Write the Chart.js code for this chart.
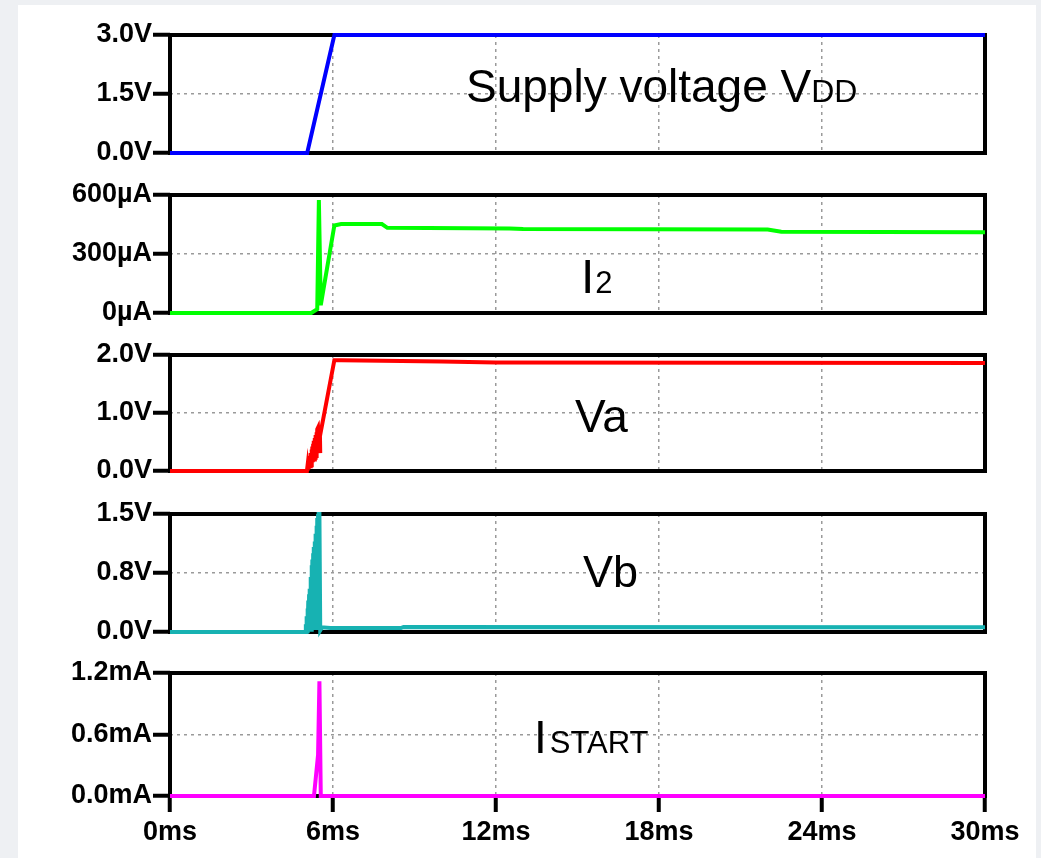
<!DOCTYPE html>
<html>
<head>
<meta charset="utf-8">
<script src="https://cdn.jsdelivr.net/npm/chart.js@4/dist/chart.umd.min.js"></script>
<style>
  html, body { margin: 0; padding: 0; background: #eef0f3; }
  body { width: 1041px; height: 858px; position: relative; overflow: hidden; }
  #sheet { position: absolute; left: 18px; top: 5px; width: 1018px; height: 853px; background: #ffffff; }
  canvas { position: absolute; left: 0; }
</style>
</head>
<body>
<div id="sheet"></div>
<canvas id="p1"></canvas>
<canvas id="p2"></canvas>
<canvas id="p3"></canvas>
<canvas id="p4"></canvas>
<canvas id="p5"></canvas>
<script>
// Shared time axis (ms)
const timeTicks = [0, 6, 12, 18, 24, 30];
const timeTickLabels = ['0ms', '6ms', '12ms', '18ms', '24ms', '30ms'];

// Supply voltage VDD (V)
const vddTime  = [0, 5.05, 6.05, 30];
const vddVolts = [0, 0, 3.0, 3.0];
const vddTicks = [0, 1.5, 3.0];
const vddTickLabels = ['0.0V', '1.5V', '3.0V'];

// Branch current I2 (µA)
const i2Time = [0, 5.2, 5.42, 5.48, 5.55, 6.05, 6.3, 7.8, 8.0, 12.5, 13, 22, 22.5, 30];
const i2Amps = [0, 0, 20, 575, 40, 445, 452, 452, 433, 430, 427, 424, 413, 411];
const i2Ticks = [0, 300, 600];
const i2TickLabels = ['0µA', '300µA', '600µA'];

// Node voltage Va (V) — ringing during the supply ramp, then settles
const vaTime  = [0, 5.04, 5.06, 5.075, 5.09, 5.105, 5.12, 5.135, 5.15, 5.165, 5.18, 5.195, 5.21, 5.225, 5.24, 5.255, 5.27, 5.285, 5.3, 5.315, 5.33, 5.345, 5.36, 5.375, 5.39, 5.405, 5.42, 5.45, 5.5, 5.53, 5.52, 6.05, 6.3, 10, 12, 30];
const vaVolts = [0, 0, 0.08, 0.01, 0.14, 0.03, 0.2, 0.05, 0.26, 0.08, 0.31, 0.1, 0.37, 0.12, 0.42, 0.15, 0.47, 0.18, 0.52, 0.2, 0.57, 0.23, 0.62, 0.26, 0.67, 0.3, 0.72, 0.75, 0.4, 0.31, 0.6, 1.91, 1.91, 1.89, 1.87, 1.86];
const vaTicks = [0, 1.0, 2.0];
const vaTickLabels = ['0.0V', '1.0V', '2.0V'];

// Node voltage Vb (V) — dense oscillation burst at start-up
const vbTime  = [0, 4.97, 5.0, 5.015, 5.03, 5.045, 5.06, 5.075, 5.09, 5.105, 5.12, 5.135, 5.15, 5.165, 5.18, 5.195, 5.21, 5.225, 5.24, 5.255, 5.27, 5.285, 5.3, 5.315, 5.33, 5.345, 5.36, 5.375, 5.39, 5.405, 5.42, 5.435, 5.45, 5.465, 5.48, 5.5, 5.53, 5.6, 5.9, 8.5, 8.6, 30];
const vbVolts = [0, 0, 0.1, 0.0, 0.2, 0.01, 0.3, 0.02, 0.4, 0.02, 0.48, 0.03, 0.55, 0.03, 0.7, 0.03, 0.85, 0.04, 0.92, 0.04, 1.0, 0.04, 1.08, 0.05, 1.15, 0.05, 1.25, 0.05, 1.35, 0.05, 1.45, 0.05, 1.5, 0.05, 1.5, 1.5, 0.02, 0.06, 0.05, 0.05, 0.065, 0.06];
const vbTicks = [0, 0.75, 1.5];
const vbTickLabels = ['0.0V', '0.8V', '1.5V'];

// Start-up current ISTART (mA)
const isTime = [0, 5.3, 5.45, 5.5, 5.55, 30];
const isAmps = [0, 0, 0.4, 1.12, 0, 0];
const isTicks = [0, 0.6, 1.2];
const isTickLabels = ['0.0mA', '0.6mA', '1.2mA'];

const FONT = '"Liberation Sans", Arial, sans-serif';

const panels = [
  { id: 'p1', top: 35,  bottom: 153, min: 0, max: 3.0, t: vddTime, v: vddVolts, ticks: vddTicks, tickLabels: vddTickLabels,
    color: '#0000ff', title: 'Supply voltage V', sub: 'DD', tx: 466, ty: 102, size: 46, subSize: 32, subGap: 0 },
  { id: 'p2', top: 195, bottom: 313, min: 0, max: 600, t: i2Time, v: i2Amps, ticks: i2Ticks, tickLabels: i2TickLabels,
    color: '#00ff00', title: 'I', sub: '2', tx: 581, ty: 293, size: 48, subSize: 31, subGap: 1 },
  { id: 'p3', top: 355, bottom: 471, min: 0, max: 2.0, t: vaTime, v: vaVolts, ticks: vaTicks, tickLabels: vaTickLabels,
    color: '#ff0000', title: 'Va', sub: '', tx: 575, ty: 432, size: 46, subSize: 30, subGap: 0 },
  { id: 'p4', top: 514, bottom: 632, min: 0, max: 1.5, t: vbTime, v: vbVolts, ticks: vbTicks, tickLabels: vbTickLabels,
    color: '#17b2b2', title: 'Vb', sub: '', tx: 583, ty: 587, size: 45, subSize: 30, subGap: 0 },
  { id: 'p5', top: 673, bottom: 796, min: 0, max: 1.2, t: isTime, v: isAmps, ticks: isTicks, tickLabels: isTickLabels,
    color: '#ff00ff', title: 'I', sub: 'START', tx: 534, ty: 753, size: 46, subSize: 31, subGap: 3 }
];

// Thick black box around each plot area, under the trace
const framePlugin = {
  id: 'frame',
  beforeDatasetsDraw(chart) {
    const a = chart.chartArea, ctx = chart.ctx;
    ctx.save();
    ctx.strokeStyle = '#000';
    ctx.lineWidth = 4;
    ctx.strokeRect(a.left, a.top, a.right - a.left, a.bottom - a.top);
    ctx.restore();
  }
};

const gridGrey = '#9a9a9a';
const clear = 'rgba(0,0,0,0)';

panels.forEach((p, i) => {
  const isLast = i === panels.length - 1;
  const canvasTop = p.top - 20;
  const canvasBottom = isLast ? 858 : p.bottom + 20;
  const canvas = document.getElementById(p.id);
  canvas.style.top = canvasTop + 'px';
  canvas.width = 1041;
  canvas.height = canvasBottom - canvasTop;

  // Trace name written inside the plot, with a smaller trailing part
  const namePlugin = {
    id: 'name' + i,
    afterDatasetsDraw(chart) {
      const ctx = chart.ctx;
      ctx.save();
      ctx.fillStyle = '#000';
      ctx.textBaseline = 'alphabetic';
      ctx.textAlign = 'left';
      ctx.font = p.size + 'px ' + FONT;
      const y = p.ty - canvasTop;
      ctx.fillText(p.title, p.tx, y);
      if (p.sub) {
        const w = ctx.measureText(p.title).width;
        ctx.font = p.subSize + 'px ' + FONT;
        ctx.fillText(p.sub, p.tx + w + p.subGap, y);
      }
      ctx.restore();
    }
  };

  new Chart(canvas, {
    type: 'line',
    data: {
      datasets: [{
        data: p.t.map((x, k) => ({ x: x, y: p.v[k] })),
        borderColor: p.color,
        borderWidth: 4,
        pointRadius: 0,
        tension: 0,
        fill: false,
        clip: false
      }]
    },
    options: {
      responsive: false,
      animation: false,
      events: [],
      layout: { padding: { left: 0, right: 56, top: 20, bottom: isLast ? 0 : 20 } },
      plugins: { legend: { display: false }, tooltip: { enabled: false } },
      scales: {
        x: {
          type: 'linear',
          min: 0, max: 30,
          afterBuildTicks: s => { s.ticks = timeTicks.map(v => ({ value: v })); },
          afterFit: s => { s.height = isLast ? 62 : 0; },
          ticks: {
            display: isLast,
            autoSkip: false,
            maxRotation: 0,
            padding: 4,
            color: '#000',
            font: { family: FONT, size: 27, weight: 'bold' },
            callback: (v, idx) => timeTickLabels[idx]
          },
          grid: {
            color: c => (c.tick && (c.tick.value === 0 || c.tick.value === 30)) ? clear : gridGrey,
            lineWidth: 1.5,
            drawTicks: isLast,
            tickLength: 16,
            tickWidth: 4,
            tickColor: '#000',
            tickBorderDash: []
          },
          border: { display: false, dash: [3, 4] }
        },
        y: {
          type: 'linear',
          min: p.min, max: p.max,
          afterBuildTicks: s => { s.ticks = p.ticks.map(v => ({ value: v })); },
          afterFit: s => { s.width = 170; },
          ticks: {
            autoSkip: false,
            padding: 1,
            color: '#000',
            font: { family: FONT, size: 27, weight: 'bold' },
            callback: (v, idx) => p.tickLabels[idx]
          },
          grid: {
            color: c => (c.tick && (c.tick.value === p.min || c.tick.value === p.max)) ? clear : gridGrey,
            lineWidth: 1.5,
            drawTicks: true,
            tickLength: 17,
            tickWidth: 4,
            tickColor: '#000',
            tickBorderDash: []
          },
          border: { display: false, dash: [3, 4] }
        }
      }
    },
    plugins: [framePlugin, namePlugin]
  });
});
</script>
</body>
</html>
